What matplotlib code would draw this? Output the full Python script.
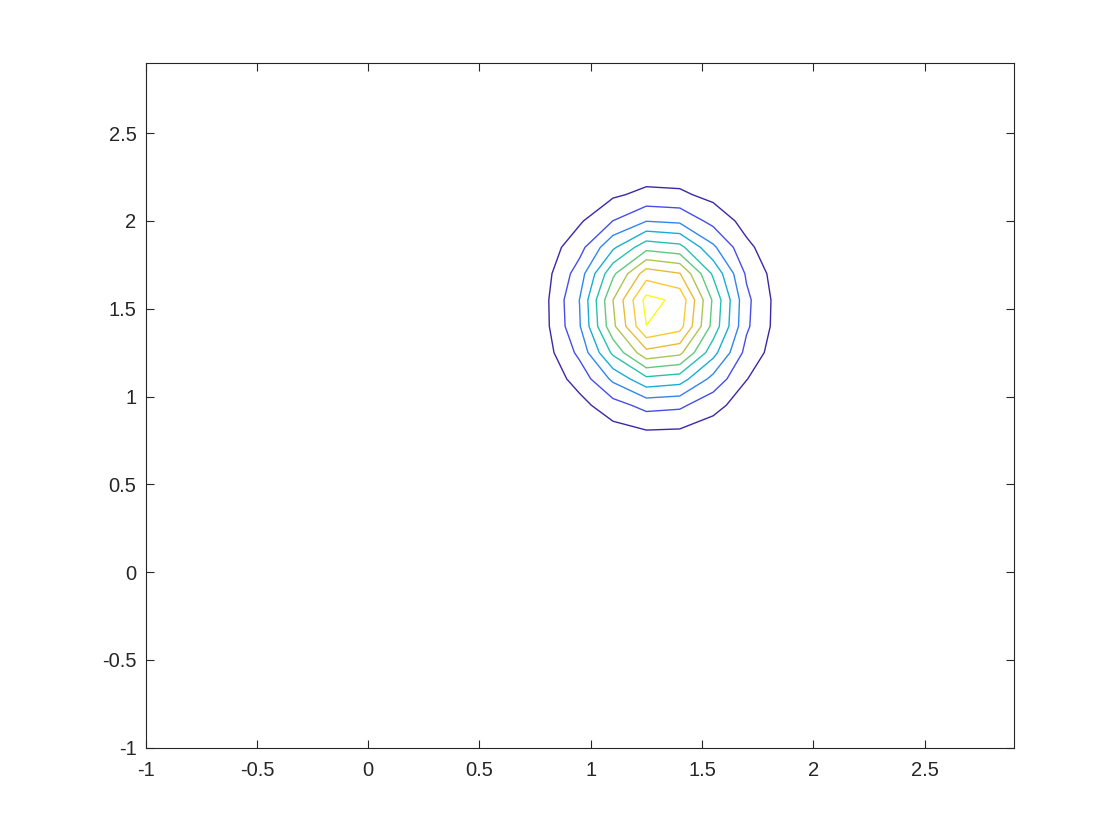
import matplotlib
matplotlib.use("Agg")
import matplotlib.pyplot as plt
import numpy as np
from matplotlib.colors import LinearSegmentedColormap, Normalize
from matplotlib.ticker import FuncFormatter

# grid the surface was sampled on (coarse, like meshgrid(-1:0.15:2.9))
X_MIN, X_MAX, STEP = -1.0, 2.9, 0.15
# fitted bivariate normal bump
PEAK = 2.16
MU_X, MU_Y = 1.305, 1.498
VAR_X, VAR_Y = 0.05, 0.1
LEVELS = [0.2, 0.4, 0.6, 0.8, 1.0, 1.2, 1.4, 1.6, 1.8, 2.0]
XTICKS = [-1, -0.5, 0, 0.5, 1, 1.5, 2, 2.5]
YTICKS = [-1, -0.5, 0, 0.5, 1, 1.5, 2, 2.5]

# rough parula
PARULA = [
    (0.2422, 0.1504, 0.6603),
    (0.2810, 0.3228, 0.9579),
    (0.1540, 0.5902, 0.9218),
    (0.0600, 0.7200, 0.8000),
    (0.2161, 0.7843, 0.5923),
    (0.5709, 0.7962, 0.3499),
    (0.8890, 0.7312, 0.2240),
    (0.9932, 0.7621, 0.2089),
    (0.9769, 0.9839, 0.0805),
]
cmap = LinearSegmentedColormap.from_list("parula", PARULA)

g = np.arange(X_MIN, X_MAX + 1e-9, STEP)
X, Y = np.meshgrid(g, g)
Z = PEAK * np.exp(-((X - MU_X) ** 2 / (2 * VAR_X) + (Y - MU_Y) ** 2 / (2 * VAR_Y)))

plt.rcParams.update({"font.family": ["Liberation Sans", "DejaVu Sans"],
                     "axes.unicode_minus": False})
fig = plt.figure(figsize=(11.2, 8.4), dpi=100)
ax = fig.add_axes([0.13, 0.11, 0.775, 0.815])
# colours spread over the level range, lowest = dark violet, highest = yellow
ax.contour(X, Y, Z, levels=LEVELS, cmap=cmap,
           norm=Normalize(LEVELS[0], LEVELS[-1]), linewidths=1.0)

ax.set_xlim(X_MIN, X_MAX)
ax.set_ylim(X_MIN, X_MAX)
ax.set_xticks(XTICKS)
ax.set_yticks(YTICKS)
fmt = FuncFormatter(lambda v, p: f"{v:g}")
ax.xaxis.set_major_formatter(fmt)
ax.yaxis.set_major_formatter(fmt)
ax.tick_params(direction="in", top=True, right=True, length=5.8, width=0.8,
               color="#262626", labelcolor="#262626", labelsize=14.5)
ax.tick_params(axis="x", pad=9.5)
ax.tick_params(axis="y", pad=6.5)
for s in ax.spines.values():
    s.set_color("#262626")
    s.set_linewidth(0.8)

fig.savefig("out.png", dpi=100)
